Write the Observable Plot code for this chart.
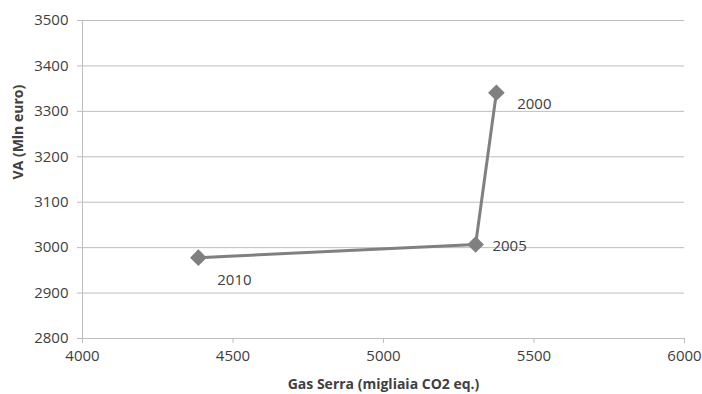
<!DOCTYPE html>
<html><head><meta charset="utf-8">
<script src="https://cdn.jsdelivr.net/npm/d3@7"></script>
<script src="https://cdn.jsdelivr.net/npm/@observablehq/plot@0.6"></script>
<style>body{margin:0;background:#fff;} svg{font-family:"Open Sans",sans-serif;}</style>
</head><body><div id="chart"></div>
<script>
const years = ["2000", "2005", "2010"];
const gasSerra = [5375, 5306, 4385];
const va = [3341, 3007, 2978];
const xTicks = [4000, 4500, 5000, 5500, 6000];
const yTicks = [2800, 2900, 3000, 3100, 3200, 3300, 3400, 3500];
const data = years.map((y, i) => ({year: y, x: gasSerra[i], y: va[i]}));
const labelDx = {"2000": 38, "2005": 34, "2010": 36};
const labelDy = {"2000": 11, "2005": 2, "2010": 23};
const col = "#808080";
const chart = Plot.plot({
  width: 702, height: 394,
  marginLeft: 82, marginRight: 18, marginTop: 20, marginBottom: 56,
  style: {fontSize: "14px", color: "#404040", background: "#fff"},
  x: {domain: [4000, 6000], ticks: xTicks, tickFormat: d => String(d), label: null},
  y: {domain: [2800, 3500], ticks: yTicks, tickFormat: d => String(d), label: null},
  marks: [
    Plot.gridY(yTicks, {stroke: "#bdbdbd", strokeOpacity: 1, strokeWidth: 1}),
    Plot.ruleX([4000], {stroke: "#bdbdbd", strokeWidth: 1}),
    Plot.ruleY([2800], {stroke: "#bdbdbd", strokeWidth: 1}),
    Plot.axisY(yTicks, {tickSize: 5, tickPadding: 9, stroke: "#bdbdbd", fill: "#404040", fontSize: 15, tickFormat: d => String(d)}),
    Plot.axisX(xTicks, {tickSize: 5, tickPadding: 7, stroke: "#bdbdbd", fill: "#404040", fontSize: 15, tickFormat: d => String(d)}),
    Plot.line(data, {x: "x", y: "y", stroke: col, strokeWidth: 3}),
    Plot.dot(data, {x: "x", y: "y", symbol: "diamond2", r: 7.5, fill: col, stroke: "none"}),
    ...years.map(yr => Plot.text(data.filter(d => d.year === yr), {x: "x", y: "y", text: "year", dx: labelDx[yr], dy: labelDy[yr], fontSize: 15, fill: "#404040"})),
    Plot.text(["VA (Mln euro)"], {frameAnchor: "left", dx: -64, rotate: -90, fontWeight: "bold", fontSize: 14, fill: "#404040"}),
    Plot.text(["Gas Serra (migliaia CO2 eq.)"], {frameAnchor: "bottom", dy: 50, fontWeight: "bold", fontSize: 14, fill: "#404040"})
  ]
});
document.getElementById("chart").appendChild(chart);
</script></body></html>
